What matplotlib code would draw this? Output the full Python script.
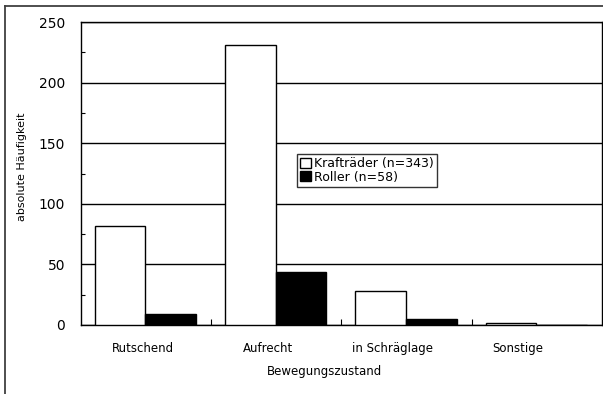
import matplotlib
matplotlib.use("Agg")
import matplotlib.pyplot as plt
from matplotlib.lines import Line2D
import numpy as np

plt.rcParams['font.family'] = ['DejaVu Sans']

categories = ["Rutschend", "Aufrecht", "in Schräglage", "Sonstige"]
kraftraeder = [82, 231, 28, 2]
roller = [9, 44, 5, 0]
series_labels = ["Krafträder (n=343)", "Roller (n=58)"]
y_ticks = [0, 50, 100, 150, 200, 250]

fig = plt.figure(figsize=(6.03, 3.94), dpi=100)
W, H = 603, 394
ax = fig.add_axes([81 / W, 1 - 325 / H, (602 - 81) / W, (325 - 22) / H])

x = np.arange(len(categories))
bw = 0.388
ax.bar(x - bw / 2 - 0.005, kraftraeder, bw, color="white", edgecolor="black",
       linewidth=1.0, label=series_labels[0], zorder=3)
ax.bar(x + bw / 2 - 0.005, roller, bw, color="black", edgecolor="black",
       linewidth=1.0, label=series_labels[1], zorder=3)

ax.set_xlim(-0.5, len(categories) - 0.5)
ax.set_ylim(0, 250)
ax.set_yticks(y_ticks)
ax.set_yticklabels([str(v) for v in y_ticks], fontsize=10)
ax.set_yticks(np.arange(25, 250, 50), minor=True)
ax.tick_params(axis='y', which='major', length=0, pad=11.5)
ax.tick_params(axis='y', which='minor', direction='in', length=3, width=0.8)
ax.yaxis.grid(True, which='major', color='black', linewidth=1.0, zorder=1)
ax.set_axisbelow(True)

# category labels, nudged slightly left of the group centres
ax.set_xticks(x - np.array([0.026, 0.064, 0.105, 0.145]))
ax.set_xticklabels(categories, fontsize=8.5)
ax.tick_params(axis='x', which='major', length=0, pad=12)
ax.set_xticks(np.arange(0.5, len(categories) - 0.5, 1.0), minor=True)
ax.tick_params(axis='x', which='minor', direction='in', length=4, width=0.8)

for s in ax.spines.values():
    s.set_linewidth(1.0)
    s.set_color('black')

ax.set_xlabel("Bewegungszustand", fontsize=8.5)
ax.xaxis.set_label_coords((325 - 81) / (602 - 81), -(365 - 325) / 303, transform=ax.transAxes)
ax.set_ylabel("absolute Häufigkeit", fontsize=8)
ax.yaxis.set_label_coords(-(81 - 27) / (602 - 81), (325 - 167) / 303, transform=ax.transAxes)

leg = ax.legend(loc='upper left', bbox_to_anchor=((297 - 81) / (602 - 81), 1 - (154 - 22) / 303),
                fontsize=9, frameon=True, fancybox=False, edgecolor='black',
                handlelength=0.85, handleheight=0.85, handletextpad=0.3,
                borderpad=0.25, labelspacing=0.05, borderaxespad=0)
leg.get_frame().set_linewidth(1.0)
leg.set_zorder(5)

# outer frame lines along the top and left edge of the figure
fig.add_artist(Line2D([5 / W, 1], [1 - 5.5 / H, 1 - 5.5 / H], transform=fig.transFigure,
                      color='#404040', linewidth=1.3))
fig.add_artist(Line2D([5 / W, 5 / W], [0, 1 - 5.5 / H], transform=fig.transFigure,
                      color='#404040', linewidth=1.3))

fig.savefig("out.png", dpi=100)
